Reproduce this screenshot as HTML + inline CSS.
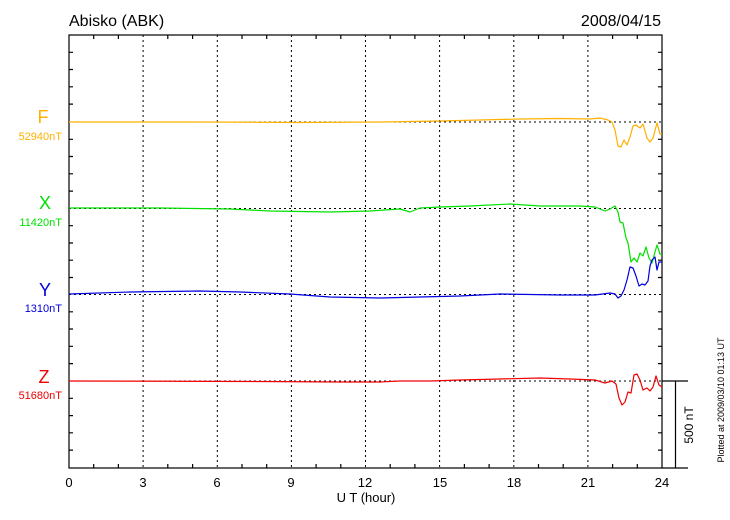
<!DOCTYPE html><html><head><style>body{margin:0;background:#fff}svg{display:block;font-family:"Liberation Sans",sans-serif}</style></head><body>
<svg width="730" height="520" viewBox="0 0 730 520">
<rect width="730" height="520" fill="#fff"/>
<text x="69" y="26" font-size="16">Abisko (ABK)</text>
<text x="661" y="26" font-size="16" text-anchor="end">2008/04/15</text>
<g stroke="#000" stroke-width="1" stroke-dasharray="2,3" fill="none">
<path d="M143.1 35V468M217.3 35V468M291.4 35V468M365.5 35V468M439.6 35V468M513.8 35V468M587.9 35V468"/>
<path d="M69 122H662M69 208.5H662M69 294.5H662M69 381H662"/>
</g>
<g stroke="#000" stroke-width="1.2" fill="none">
<rect x="69" y="35" width="593" height="433"/>
<path d="M662 468H688M662 381H688M675.5 381V468"/>
<path id="tk" d="M93.7 35v4M118.4 35v4M167.8 35v4M192.6 35v4M242 35v4M266.7 35v4M316.1 35v4M340.8 35v4M390.2 35v4M414.9 35v4M464.4 35v4M489.1 35v4M538.5 35v4M563.2 35v4M612.6 35v4M637.3 35v4"/>
<path d="M93.7 468v-4M118.4 468v-4M167.8 468v-4M192.6 468v-4M242 468v-4M266.7 468v-4M316.1 468v-4M340.8 468v-4M390.2 468v-4M414.9 468v-4M464.4 468v-4M489.1 468v-4M538.5 468v-4M563.2 468v-4M612.6 468v-4M637.3 468v-4"/>
<path d="M69 52.3h4M69 69.5h4M69 86.8h4M69 104.1h4M69 139.3h4M69 156.5h4M69 173.8h4M69 191.1h4M69 225.7h4M69 243h4M69 260.2h4M69 277.5h4M69 311.8h4M69 329h4M69 346.3h4M69 363.6h4M69 398.3h4M69 415.6h4M69 432.8h4M69 450.1h4"/>
<path d="M662 52.3h-4M662 69.5h-4M662 86.8h-4M662 104.1h-4M662 139.3h-4M662 156.5h-4M662 173.8h-4M662 191.1h-4M662 225.7h-4M662 243h-4M662 260.2h-4M662 277.5h-4M662 311.8h-4M662 329h-4M662 346.3h-4M662 363.6h-4M662 398.3h-4M662 415.6h-4M662 432.8h-4M662 450.1h-4"/>
</g>
<g fill="none" stroke-width="1.2" stroke-linejoin="round">
<polyline stroke="#ffb000" points="69,122 200,122 300,122.5 380,122 440,121 480,120 520,119 560,118.5 590,119 600,118 608,120 612,122 615,130 618,146 621,147 624,140 627,145 630,137 633,126 636,125 640,128 643,124 647,138 650,142 653,138 657,123 660,134 662,134"/>
<polyline stroke="#00e000" points="69,208 160,208 230,209 270,211 330,212 370,211 400,209 410,212 420,208 440,207 470,206 510,204 540,206 580,206 595,207 605,211 610,209 615,206 618,212 620,222 623,223 626,238 628,243 631,262 634,258 637,262 640,253 643,256 646,247 649,258 652,263 655,252 657,245 660,254 662,255"/>
<polyline stroke="#0000e0" points="69,294 130,292 200,291 240,292 290,294 330,297 380,298 420,297 460,296 500,294 560,295 595,295 610,293 615,294 618,298 621,296 624,290 627,280 630,267 633,268 636,276 639,286 642,284 645,285 648,281 650,266 652,260 655,257 657,270 659,262 662,262"/>
<polyline stroke="#f00000" points="69,381 260,381.5 340,382 380,382 400,381 430,381 460,380 500,379 540,378 570,379 595,380 605,383 612,381 616,384 619,398 622,405 625,402 628,392 631,393 634,375 637,374 640,380 643,390 647,388 650,391 653,387 656,376 659,385 662,387"/>
</g>
<g font-size="18" text-anchor="middle">
<text x="43" y="123" fill="#ffb000">F</text>
<text x="45" y="209" fill="#00e000">X</text>
<text x="45" y="296" fill="#0000e0">Y</text>
<text x="44" y="383" fill="#f00000">Z</text>
</g>
<g font-size="11" text-anchor="end">
<text x="62" y="140" fill="#ffb000">52940nT</text>
<text x="62" y="226" fill="#00e000">11420nT</text>
<text x="62" y="312" fill="#0000e0">1310nT</text>
<text x="62" y="399" fill="#f00000">51680nT</text>
</g>
<g font-size="13" text-anchor="middle">
<text x="69" y="487">0</text><text x="143" y="487">3</text><text x="217" y="487">6</text><text x="291" y="487">9</text><text x="365" y="487">12</text><text x="440" y="487">15</text><text x="514" y="487">18</text><text x="588" y="487">21</text><text x="662" y="487">24</text>
<text x="366" y="502">U T (hour)</text>
</g>
<text transform="translate(693,425) rotate(-90)" font-size="12" text-anchor="middle">500 nT</text>
<text transform="translate(724,400) rotate(-90)" font-size="9" text-anchor="middle">Plotted at 2009/03/10 01:13 UT</text>
</svg></body></html>
